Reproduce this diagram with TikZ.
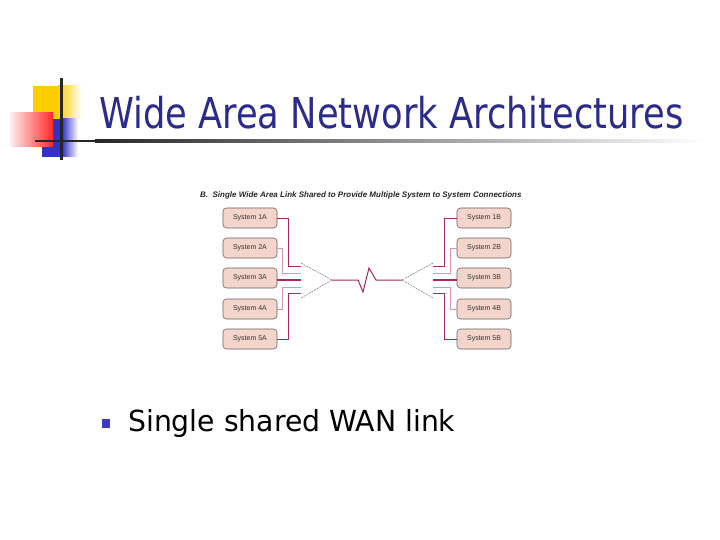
\documentclass[tikz,border=0pt]{standalone}
\usepackage{fontspec}
\setmainfont{DejaVu Sans}
\newfontfamily\capfont{Liberation Sans}
\definecolor{titleblue}{RGB}{43,43,140}
\definecolor{bulletblue}{RGB}{58,58,196}
\definecolor{logoyellow}{RGB}{255,204,0}
\definecolor{logored}{RGB}{255,40,40}
\definecolor{logoblue}{RGB}{50,50,200}
\definecolor{boxfill}{RGB}{243,213,204}
\definecolor{boxline}{RGB}{110,95,95}
\definecolor{wire}{RGB}{170,40,90}
\definecolor{wirelight}{RGB}{215,150,175}
\tikzset{
  sysbox/.style={draw=boxline, fill=boxfill, rounded corners=3.5pt, line width=0.6pt,
    minimum width=54pt, minimum height=20pt, inner sep=0pt,
    font=\capfont\fontsize{7}{8}\selectfont, text=black!80},
  outerwire/.style={draw=wire, line width=0.9pt},
  innerwire/.style={draw=wirelight, line width=0.6pt},
  midwire/.style={draw=wire, line width=1.3pt},
  muxedge/.style={draw=black!60, line width=0.45pt, dash pattern=on 2pt off 1pt},
}
\begin{document}
\begin{tikzpicture}[x=1pt,y=-1pt]
\useasboundingbox (0,0) rectangle (720,540);
\fill[white] (0,0) rectangle (720,540);
% logo
\fill[logoyellow] (33,86) rectangle (58,119);
\shade[left color=logoyellow, right color=white] (58,86) rectangle (82,119);
\fill[logoblue] (42,119) rectangle (62,157);
\shade[left color=logoblue, right color=white] (62,119) rectangle (78,157);
\shade[left color=logored!8, right color=logored] (10,113) rectangle (53,147);
\fill[black!85] (60,78) rectangle (62.5,160);
\fill[black!85] (35,140) rectangle (95,142.5);
\shade[left color=black!85, right color=white] (95,140) rectangle (705,142.5);
% title
\node[anchor=base west, inner sep=0pt, text=titleblue, font=\fontsize{42.5}{46}\selectfont] (title) at (99,129) {\scalebox{0.83}[1]{Wide Area Network Architectures}};
% caption
\node[anchor=west, inner sep=0pt, font=\capfont\bfseries\itshape\fontsize{8}{9}\selectfont, text=black!85] (cap) at (200,195) {B.\ \ Single Wide Area Link Shared to Provide Multiple System to System Connections};
% boxes
\foreach \i/\y in {1/218,2/248,3/278,4/309,5/339}{
  \node[sysbox] (A\i) at (250,\y) {System \i A};
  \node[sysbox] (B\i) at (484,\y) {System \i B};
}
% mux triangles
\coordinate (LT) at (301,263);
\coordinate (LB) at (301,298);
\coordinate (LA) at (332,280);
\coordinate (RT) at (433,263);
\coordinate (RB) at (433,298);
\coordinate (RA) at (402,280);
\draw[muxedge] (LT) -- (LA) -- (LB);
\draw[muxedge] (RT) -- (RA) -- (RB);
\foreach \i/\y in {1/266,2/273,3/280,4/287,5/293}{
  \coordinate (L\i) at (301,\y);
  \coordinate (R\i) at (433,\y);
}
% left wires
\draw[outerwire] (A1.east) -- ++(11,0) |- (L1);
\draw[innerwire] (A2.east) -- ++(5,0) |- (L2);
\draw[midwire] (A3.east) ++(0,2) -- (L3);
\draw[innerwire] (A4.east) -- ++(5,0) |- (L4);
\draw[outerwire] (A5.east) -- ++(11,0) |- (L5);
% right wires
\draw[outerwire] (B1.west) -- ++(-12,0) |- (R1);
\draw[innerwire] (B2.west) -- ++(-6,0) |- (R2);
\draw[midwire] (B3.west) ++(0,2) -- (R3);
\draw[innerwire] (B4.west) -- ++(-6,0) |- (R4);
\draw[outerwire] (B5.west) -- ++(-12,0) |- (R5);
% link with zigzag
\draw[outerwire, line width=1pt] (LA) -- (358,280) -- (363,292) -- (369,268) -- (376,280) -- (RA);
% bullet
\fill[bulletblue] (102,419) rectangle (110,428);
\node[anchor=base west, inner sep=0pt, font=\fontsize{29}{32}\selectfont, text=black] (bullet) at (128,431) {\scalebox{0.975}[1]{Single shared WAN link}};
\end{tikzpicture}
\end{document}
